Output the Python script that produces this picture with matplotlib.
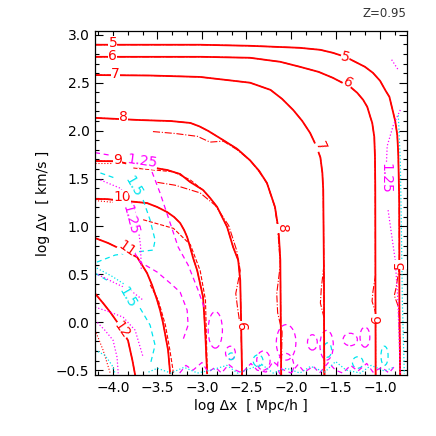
import numpy as np
import matplotlib.pyplot as plt
from matplotlib.patches import Ellipse
from matplotlib.ticker import MultipleLocator

plt.rcParams['font.family'] = ['DejaVu Sans']

RED = '#ff0000'
MAG = '#ff00ff'
CYA = '#00e5ee'

# red solid contours, levels 5..12
c5_x = [-4.2, -3.02, -2.46, -1.90, -1.67, -1.53, -1.39, -1.28, -1.17, -1.08, -1.0, -0.94,
        -0.895, -0.83, -0.807, -0.796, -0.785, -0.783, -0.775]
c5_y = [2.896, 2.896, 2.885, 2.864, 2.843, 2.812, 2.77, 2.718, 2.666, 2.603, 2.52, 2.42,
        2.352, 2.10, 1.955, 1.767, 1.276, 0.231, -0.542]
c6_x = [-4.2, -3.0, -2.46, -2.12, -1.90, -1.69, -1.53, -1.335, -1.256, -1.19, -1.144, -1.11,
        -1.088, -1.065, -1.057, -1.054, -1.05]
c6_y = [2.77, 2.77, 2.76, 2.718, 2.666, 2.613, 2.551, 2.457, 2.394, 2.321, 2.248, 2.144,
        2.08, 1.934, 1.72, 1.41, -0.55]
c7_x = [-4.2, -3.58, -3.02, -2.46, -2.23, -2.10, -1.975, -1.874, -1.785, -1.717, -1.67,
        -1.648, -1.638, -1.63, -1.627]
c7_y = [2.58, 2.575, 2.56, 2.50, 2.425, 2.331, 2.215, 2.101, 1.975, 1.84, 1.72,
        1.56, 1.38, 0.5, -0.55]
c8_x = [-4.2, -3.69, -3.35, -3.13, -3.03, -2.93, -2.76, -2.604, -2.46, -2.357, -2.27, -2.18,
        -2.145, -2.133, -2.12, -2.11]
c8_y = [2.133, 2.11, 2.10, 2.08, 2.045, 1.997, 1.90, 1.809, 1.69, 1.579, 1.453, 1.203,
        0.994, 0.858, 0.649, -0.55]
c9_x = [-4.2, -3.95, -3.69, -3.526, -3.39, -3.245, -3.133, -2.987, -2.908, -2.829, -2.773,
        -2.717, -2.65, -2.593, -2.57, -2.56, -2.55]
c9_y = [1.683, 1.68, 1.621, 1.61, 1.589, 1.547, 1.464, 1.38, 1.297, 1.203, 1.098,
        0.994, 0.785, 0.649, 0.44, 0.0, -0.55]
c10_x = [-4.2, -4.08, -3.616, -3.503, -3.391, -3.312, -3.245, -3.2, -3.166, -3.133, -3.099,
         -3.054, -2.987, -2.964, -2.942]
c10_y = [1.286, 1.286, 1.244, 1.203, 1.15, 1.098, 1.036, 0.962, 0.889, 0.785, 0.67,
         0.544, 0.262, -0.083, -0.532]
c11_x = [-4.2, -4.054, -3.728, -3.672, -3.616, -3.56, -3.503, -3.47, -3.436, -3.38, -3.357]
c11_y = [0.879, 0.827, 0.68, 0.597, 0.513, 0.388, 0.231, 0.126, -0.009, -0.291, -0.532]
c12_x = [-4.2, -4.11, -4.03, -3.95, -3.83, -3.78, -3.75]
c12_y = [0.30, 0.20, 0.106, 0.0, -0.19, -0.40, -0.55]

# red companions (dash-dot / dashed / dotted) where they leave the solid lines
c8dd_x = [-3.55, -3.30, -3.05, -2.91, -2.76, -2.604, -2.46, -2.357, -2.27, -2.18, -2.15,
          -2.12, -2.16, -2.15, -2.10, -2.11]
c8dd_y = [1.99, 1.97, 1.94, 1.88, 1.89, 1.80, 1.69, 1.57, 1.45, 1.20, 0.99,
          0.6, 0.3, 0.1, -0.1, -0.55]
c7dd_x = [-1.63, -1.66, -1.67, -1.63, -1.62]
c7dd_y = [0.6, 0.35, 0.2, 0.05, -0.55]
c6dd_x = [-1.05, -1.08, -1.09, -1.05, -1.05]
c6dd_y = [0.5, 0.32, 0.22, 0.1, -0.55]
c5dd_x = [-0.78, -0.82, -0.84, -0.79, -0.77]
c5dd_y = [0.6, 0.36, 0.28, 0.15, -0.55]
c9ds_x = [-3.77, -3.32, -3.13, -2.99]
c9ds_y = [1.61, 1.57, 1.485, 1.38]
c9dd_x = [-3.50, -3.30, -3.02, -2.85, -2.70, -2.61, -2.57, -2.62, -2.60, -2.56, -2.55]
c9dd_y = [1.46, 1.43, 1.35, 1.22, 1.01, 0.75, 0.54, 0.3, 0.15, -0.1, -0.55]
c10ds_x = [-3.66, -3.32, -3.13, -3.02, -2.96, -2.94]
c10ds_y = [1.07, 0.98, 0.81, 0.54, 0.23, -0.53]
c11ds_x = [-3.58, -3.49, -3.41, -3.36, -3.32]
c11ds_y = [0.39, 0.23, -0.03, -0.29, -0.53]
c9dt_x = [-4.2, -3.95]
c9dt_y = [1.66, 1.66]
c10dt_x = [-4.2, -3.98]
c10dt_y = [1.27, 1.25]
c13dt_x = [-4.2, -4.11, -4.03]
c13dt_y = [-0.08, -0.29, -0.53]

red_labels = ['5', '6', '7', '8', '9', '10', '11', '12',
              '5', '6', '7', '8', '9', '6', '5']
red_lab_x = [-4.0, -4.0, -3.975, -3.885, -3.95, -3.90, -3.84, -3.90,
             -1.39, -1.36, -1.67, -2.10, -2.515, -1.04, -0.775]
red_lab_y = [2.915, 2.775, 2.59, 2.14, 1.69, 1.31, 0.77, -0.08,
             2.77, 2.50, 1.84, 0.98, -0.03, 0.04, 0.60]
red_lab_rot = [0, 0, 0, 0, 0, 0, -35, -55, -15, -30, -65, -90, 90, 90, 90]

# magenta / cyan contours (levels 1.25 and 1.5)
mA_x = [-3.56, -3.47, -3.357, -3.267, -3.155, -3.043, -2.964]
mA_y = [1.568, 1.349, 1.036, 0.785, 0.597, 0.335, 0.126]
mA0_x = [-4.2, -4.01]
mA0_y = [1.77, 1.74]
mB_x = [-3.807, -3.694, -3.503, -3.357, -3.245, -3.166, -3.155, -3.222]
mB_y = [0.806, 0.628, 0.524, 0.409, 0.315, 0.126, -0.03, -0.208]
cC0_x = [-4.14, -3.98]
cC0_y = [1.558, 1.506]
cC_x = [-3.66, -3.582, -3.526, -3.548, -3.75, -3.975, -4.178]
cC_y = [1.276, 1.067, 0.858, 0.753, 0.733, 0.701, 0.628]
cD0_x = [-4.2, -4.03]
cD0_y = [0.513, 0.419]
cD_x = [-3.694, -3.582, -3.526, -3.582]
cD_y = [0.147, -0.03, -0.239, -0.448]
mE1_x = [-4.14, -3.92, -3.77, -3.72, -3.69, -3.68]
mE1_y = [1.485, 1.40, 1.224, 1.015, 0.806, 0.545]
mE2_x = [-4.2, -3.975, -3.807, -3.66]
mE2_y = [0.513, 0.409, 0.335, 0.231]
mE3_x = [-4.2, -4.03, -3.885, -3.75, -3.66]
mE3_y = [0.158, 0.106, 0.053, -0.083, -0.365]
mE4_x = [-4.2, -4.09, -3.998, -3.953, -3.94]
mE4_y = [0.022, -0.083, -0.187, -0.365, -0.532]
cF1_x = [-4.2, -4.09, -4.01, -3.975]
cF1_y = [-0.29, -0.344, -0.448, -0.532]
cF2_x = [-4.18, -4.01, -3.86]
cF2_y = [0.565, 0.48, 0.39]
mG1_x = [-0.773, -0.85, -0.92, -0.93]
mG1_y = [2.216, 2.06, 1.84, 1.63]
mG2_x = [-0.91, -0.83, -0.80, -0.773]
mG2_y = [1.17, 0.65, 0.23, -0.54]
mG0_x = [-0.87, -0.80]
mG0_y = [2.74, 2.64]
cH_x = [-0.795, -0.773, -0.762, -0.75, -0.728]
cH_y = [2.16, 1.69, 1.07, 0.23, -0.54]

# ragged fringe of 1.25 / 1.5 contours along the bottom edge
mfr_x = [-3.25, -3.18, -3.1, -3.0, -2.93, -2.85, -2.78, -2.7, -2.62, -2.55, -2.45, -2.38,
         -2.28, -2.2, -2.1, -2.0, -1.92, -1.85, -1.75, -1.68, -1.58, -1.5, -1.42, -1.33,
         -1.25, -1.15, -1.08, -0.98, -0.9, -0.82]
mfr_y = [-0.53, -0.45, -0.5, -0.42, -0.52, -0.47, -0.53, -0.44, -0.5, -0.53, -0.43, -0.5,
         -0.52, -0.41, -0.49, -0.53, -0.44, -0.52, -0.46, -0.53, -0.42, -0.5, -0.53, -0.45,
         -0.51, -0.43, -0.52, -0.47, -0.53, -0.44]
cfr_x = [-3.6, -3.5, -3.35, -3.2, -3.05, -2.9, -2.72, -2.6, -2.48, -2.33, -2.2, -2.05,
         -1.9, -1.78, -1.62, -1.5, -1.38, -1.22, -1.1, -0.95, -0.85]
cfr_y = [-0.52, -0.48, -0.53, -0.47, -0.53, -0.5, -0.45, -0.53, -0.49, -0.44, -0.53, -0.48,
         -0.53, -0.46, -0.52, -0.41, -0.5, -0.53, -0.45, -0.51, -0.47]

mc_labels = ['1.25', '1.5', '1.25', '1.5', '1.25']
mc_lab_x = [-3.67, -3.773, -3.807, -3.84, -0.94]
mc_lab_y = [1.683, 1.412, 1.067, 0.262, 1.506]
mc_lab_rot = [-8, -60, -75, -60, -90]
mc_lab_col = [MAG, CYA, MAG, CYA, MAG]

# small closed loops near the bottom: centre x, centre y, width, height
mloop_x = [-2.85, -2.68, -2.31, -2.055, -1.76, -1.60, -1.335, -1.17, -2.06]
mloop_y = [-0.08, -0.32, -0.40, -0.21, -0.21, -0.24, -0.18, -0.155, -0.45]
mloop_w = [0.16, 0.11, 0.15, 0.22, 0.11, 0.15, 0.16, 0.11, 0.18]
mloop_h = [0.38, 0.14, 0.2, 0.37, 0.16, 0.31, 0.13, 0.21, 0.25]
cloop_x = [-2.67, -2.37, -1.59, -1.25, -0.95]
cloop_y = [-0.355, -0.40, -0.29, -0.42, -0.35]
cloop_w = [0.07, 0.11, 0.09, 0.12, 0.08]
cloop_h = [0.07, 0.12, 0.15, 0.12, 0.2]

fig = plt.figure(figsize=(4.36, 4.36), dpi=100)
ax = fig.add_axes([0.218, 0.14, 0.715, 0.789])

lw_main = 1.3
for xs, ys in [(c5_x, c5_y), (c6_x, c6_y), (c7_x, c7_y), (c8_x, c8_y),
               (c9_x, c9_y), (c10_x, c10_y), (c11_x, c11_y), (c12_x, c12_y)]:
    ax.plot(xs, ys, color=RED, lw=lw_main, solid_joinstyle='round')
    ax.plot(xs, ys, color=RED, lw=0.8, ls='-.')

for xs, ys in [(c8dd_x, c8dd_y), (c9dd_x, c9dd_y), (c7dd_x, c7dd_y),
               (c6dd_x, c6dd_y), (c5dd_x, c5dd_y)]:
    ax.plot(xs, ys, color=RED, lw=0.8, ls='-.')
for xs, ys in [(c9ds_x, c9ds_y), (c10ds_x, c10ds_y), (c11ds_x, c11ds_y)]:
    ax.plot(xs, ys, color=RED, lw=0.8, ls='--')
for xs, ys in [(c9dt_x, c9dt_y), (c10dt_x, c10dt_y), (c13dt_x, c13dt_y)]:
    ax.plot(xs, ys, color=RED, lw=0.8, ls=':')

dash = (0, (4, 3))
for xs, ys in [(mA_x, mA_y), (mA0_x, mA0_y), (mB_x, mB_y), (mfr_x, mfr_y)]:
    ax.plot(xs, ys, color=MAG, lw=0.9, ls=dash)
for xs, ys in [(cC0_x, cC0_y), (cC_x, cC_y), (cD0_x, cD0_y), (cD_x, cD_y)]:
    ax.plot(xs, ys, color=CYA, lw=0.9, ls=dash)
for xs, ys in [(mE1_x, mE1_y), (mE2_x, mE2_y), (mE3_x, mE3_y), (mE4_x, mE4_y),
               (mG1_x, mG1_y), (mG2_x, mG2_y), (mG0_x, mG0_y)]:
    ax.plot(xs, ys, color=MAG, lw=0.9, ls=':')
for xs, ys in [(cF1_x, cF1_y), (cF2_x, cF2_y), (cH_x, cH_y), (cfr_x, cfr_y)]:
    ax.plot(xs, ys, color=CYA, lw=0.9, ls=':')

for i in range(len(mloop_x)):
    ax.add_patch(Ellipse((mloop_x[i], mloop_y[i]), mloop_w[i], mloop_h[i],
                         fill=False, ec=MAG, lw=0.9, ls=dash))
for i in range(len(cloop_x)):
    ax.add_patch(Ellipse((cloop_x[i], cloop_y[i]), cloop_w[i], cloop_h[i],
                         fill=False, ec=CYA, lw=0.9, ls=dash))

for t, x, y, r in zip(red_labels, red_lab_x, red_lab_y, red_lab_rot):
    ax.text(x, y, t, color=RED, fontsize=10, rotation=r, ha='center', va='center',
            bbox=dict(fc='white', ec='none', pad=0.05))
for t, x, y, r, c in zip(mc_labels, mc_lab_x, mc_lab_y, mc_lab_rot, mc_lab_col):
    ax.text(x, y, t, color=c, fontsize=10, rotation=r, ha='center', va='center',
            bbox=dict(fc='white', ec='none', pad=0.05))

ax.set_xlim(-4.2, -0.7)
ax.set_ylim(-0.55, 3.04)
ax.xaxis.set_major_locator(MultipleLocator(0.5))
ax.xaxis.set_minor_locator(MultipleLocator(0.5 / 3))
ax.yaxis.set_major_locator(MultipleLocator(0.5))
ax.yaxis.set_minor_locator(MultipleLocator(0.1))
ax.tick_params(which='both', direction='in', top=True, right=True, labelsize=10, width=0.8,
               pad=4)
ax.tick_params(which='major', length=6)
ax.tick_params(which='minor', length=3)
ax.xaxis.set_major_formatter(plt.FuncFormatter(lambda v, p: f'{v:.1f}'.replace('-', '\u2212')))
ax.yaxis.set_major_formatter(plt.FuncFormatter(lambda v, p: f'{v:.1f}'.replace('-', '\u2212')))
for s in ax.spines.values():
    s.set_linewidth(0.9)

ax.set_xlabel('log \u0394x  [ Mpc/h ]', fontsize=10, labelpad=3)
ax.set_ylabel('log \u0394v  [ km/s ]', fontsize=10, labelpad=4)
fig.text(0.933, 0.968, 'Z=0.95', ha='right', va='center', fontsize=8.5, color='#333333')

fig.savefig('out.png', dpi=100)
